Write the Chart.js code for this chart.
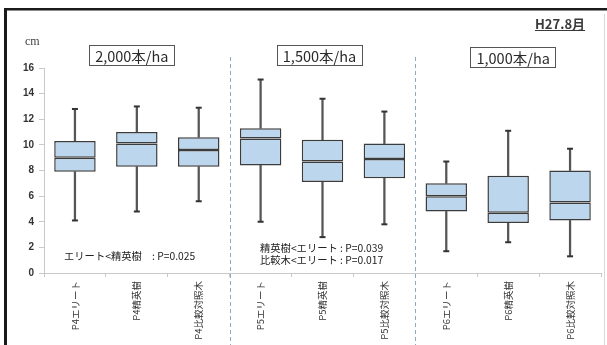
<!DOCTYPE html>
<html>
<head>
<meta charset="utf-8">
<script src="https://cdn.jsdelivr.net/npm/chart.js@4/dist/chart.umd.min.js"></script>
<style>
  html, body { margin: 0; padding: 0; background: #fff; overflow: hidden; }
  #wrap { position: relative; width: 607px; height: 345px; }
</style>
</head>
<body>
<div id="wrap"><canvas id="c" width="607" height="345"></canvas></div>
<script>
// Tree height (cm) by planting density and seedling type
const categories = ['P4エリート', 'P4精英樹', 'P4比較対照木',
                    'P5エリート', 'P5精英樹', 'P5比較対照木',
                    'P6エリート', 'P6精英樹', 'P6比較対照木'];
const minValues    = [4.1, 4.8, 5.6, 4.0, 2.8, 3.8, 1.7, 2.4, 1.3];
const q1Values     = [7.9, 8.3, 8.3, 8.4, 7.1, 7.4, 4.8, 3.9, 4.1];
const medianValues = [9.0, 10.1, 9.6, 10.5, 8.7, 8.9, 6.0, 4.7, 5.5];
const q3Values     = [10.3, 11.0, 10.6, 11.3, 10.4, 10.1, 7.0, 7.6, 8.0];
const maxValues    = [12.8, 13.0, 12.9, 15.1, 13.6, 12.6, 8.7, 11.1, 9.7];
const yTicks = [0, 2, 4, 6, 8, 10, 12, 14, 16];
const groupTitles = ['2,000本/ha', '1,500本/ha', '1,000本/ha'];
const dateLabel = 'H27.8月';
const noteGroup1 = ['エリート<精英樹　: P=0.025'];
const noteGroup2 = ['精英樹<エリート : P=0.039', '比較木<エリート : P=0.017'];

const JP = "'Noto Sans CJK JP', 'Noto Sans', sans-serif";
const BOX_FILL = '#bcd6ee';
const BOX_LINE = '#3c3c3c';
const WHISKER = '#555555';

const lowerBox = q1Values.map((q, i) => [q, medianValues[i]]);
const upperBox = medianValues.map((m, i) => [m, q3Values[i]]);
const lowerWhisker = minValues.map((m, i) => [m, q1Values[i]]);
const upperWhisker = q3Values.map((q, i) => [q, maxValues[i]]);

const decorations = {
  id: 'decorations',
  afterDraw(chart) {
    const { ctx, scales: { x, y } } = chart;
    ctx.save();

    // outer frame (left and top)
    ctx.fillStyle = '#1a1a1a';
    ctx.fillRect(4, 8, 3, 345);
    ctx.fillRect(4, 8, 610, 2.5);
    ctx.strokeStyle = '#d8d8d8';
    ctx.lineWidth = 1;
    ctx.beginPath(); ctx.moveTo(604.5, 14); ctx.lineTo(604.5, 345); ctx.stroke();

    // group dividers
    ctx.strokeStyle = '#8fa8c4';
    ctx.lineWidth = 1;
    ctx.setLineDash([4, 3]);
    [2.5, 5.5].forEach(v => {
      const px = Math.round(x.getPixelForValue(v)) + 0.5;
      ctx.beginPath(); ctx.moveTo(px, 57); ctx.lineTo(px, 345); ctx.stroke();
    });
    ctx.setLineDash([]);

    // group title boxes
    ctx.font = '14.5px ' + JP;
    ctx.textBaseline = 'middle';
    ctx.textAlign = 'center';
    const centers = [x.getPixelForValue(1) - 5, x.getPixelForValue(4) - 3, x.getPixelForValue(7) + 5];
    const tops = [45, 45, 47];
    groupTitles.forEach((t, i) => {
      const w = ctx.measureText(t).width + 12;
      const h = 20;
      ctx.fillStyle = '#fff';
      ctx.fillRect(centers[i] - w / 2, tops[i], w, h);
      ctx.strokeStyle = '#555';
      ctx.lineWidth = 1;
      ctx.strokeRect(Math.round(centers[i] - w / 2) + 0.5, tops[i] + 0.5, Math.round(w), h);
      ctx.fillStyle = '#2a2a2a';
      ctx.fillText(t, centers[i], tops[i] + h / 2 + 1);
    });

    // unit label
    ctx.font = '12px "Liberation Serif", serif';
    ctx.fillStyle = '#444';
    ctx.textAlign = 'left';
    ctx.fillText('cm', 25, 42);

    // date label, underlined
    ctx.font = 'bold 13px ' + JP;
    ctx.fillStyle = '#3a3a3a';
    ctx.textAlign = 'left';
    ctx.fillText(dateLabel, 535, 24);
    const dw = ctx.measureText(dateLabel).width;
    ctx.fillRect(535, 30, dw, 1);

    // significance notes
    ctx.font = '10.3px ' + JP;
    ctx.fillStyle = '#222';
    ctx.textAlign = 'left';
    noteGroup1.forEach((t, i) => ctx.fillText(t, 64, 256 + i * 11));
    noteGroup2.forEach((t, i) => ctx.fillText(t, 260, 248.5 + i * 12));

    ctx.restore();
  }
};

const boxCommon = {
  type: 'bar',
  grouped: false,
  backgroundColor: BOX_FILL,
  borderColor: BOX_LINE,
  borderWidth: 1.5,
  borderSkipped: false,
  barPercentage: 0.67,
  categoryPercentage: 1.0,
  order: 1
};
const whiskerCommon = {
  type: 'bar',
  grouped: false,
  backgroundColor: WHISKER,
  borderWidth: 0,
  barThickness: 1.6,
  order: 2
};
const capCommon = {
  type: 'line',
  showLine: false,
  pointStyle: 'line',
  pointRadius: 3,
  pointBorderWidth: 2,
  pointBorderColor: '#333',
  pointBackgroundColor: '#333',
  order: 0
};

new Chart(document.getElementById('c'), {
  data: {
    labels: categories,
    datasets: [
      { ...whiskerCommon, data: lowerWhisker },
      { ...whiskerCommon, data: upperWhisker },
      { ...boxCommon, data: lowerBox },
      { ...boxCommon, data: upperBox },
      { ...capCommon, data: minValues },
      { ...capCommon, data: maxValues }
    ]
  },
  options: {
    responsive: false,
    animation: false,
    events: [],
    layout: { padding: { top: 68, left: 0, right: 0, bottom: 0 } },
    plugins: { legend: { display: false }, tooltip: { enabled: false } },
    scales: {
      x: {
        type: 'category',
        offset: true,
        afterFit(s) { s.height = 72; },
        grid: { offset: true, drawOnChartArea: false, color: '#c9c9c9', tickLength: 4 },
        border: { color: '#c9c9c9' },
        ticks: {
          minRotation: 90, maxRotation: 90, autoSkip: false, padding: 4,
          color: '#333', font: { family: JP, size: 9.5 }
        }
      },
      y: {
        min: 0, max: 16,
        afterFit(s) { s.width = 44; },
        afterBuildTicks(s) { s.ticks = yTicks.map(v => ({ value: v })); },
        grid: { drawOnChartArea: false, color: '#c9c9c9', tickLength: 5 },
        border: { color: '#c9c9c9' },
        ticks: {
          padding: 5, color: '#333',
          font: { family: 'Liberation Sans, Arial, sans-serif', size: 10, weight: 'bold' }
        }
      }
    }
  },
  plugins: [decorations]
});
</script>
</body>
</html>
